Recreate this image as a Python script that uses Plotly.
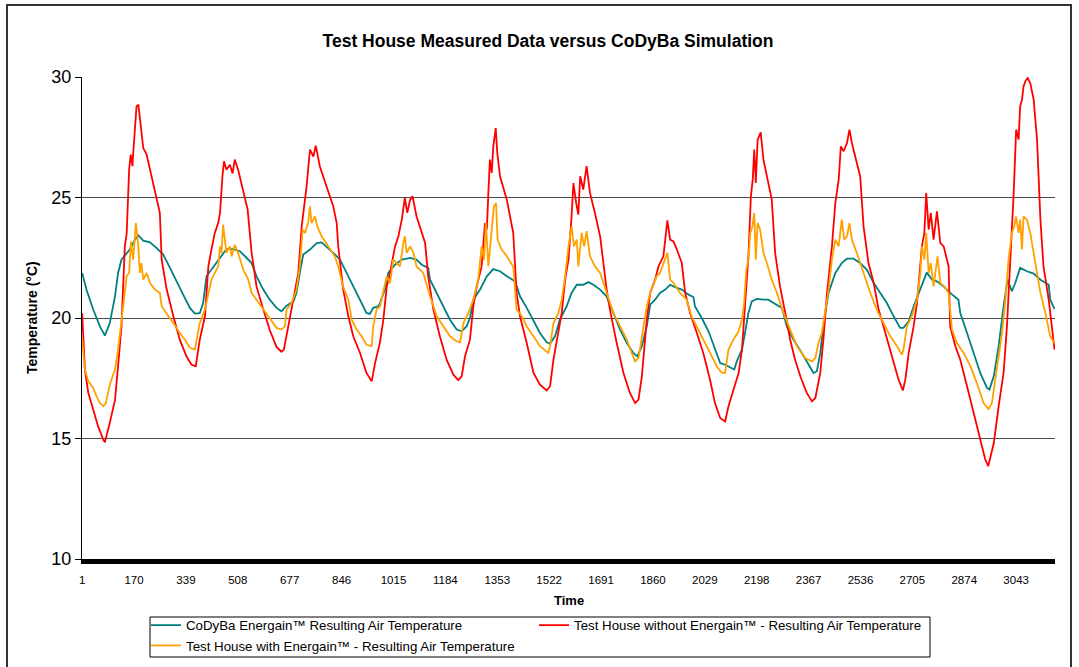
import plotly.graph_objects as go

# ---------------- data ----------------
tick_labels = [1, 170, 339, 508, 677, 846, 1015, 1184, 1353, 1522, 1691,
               1860, 2029, 2198, 2367, 2536, 2705, 2874, 3043]
y_ticks = [10, 15, 20, 25, 30]
n_points = 3168

# CoDyBa Energain(TM) Resulting Air Temperature (teal)
codyba_t = [1, 15, 37, 59, 75, 91, 108, 118, 129, 140, 156, 173, 184, 200, 222, 243, 265, 287, 308, 330,
            352, 368, 384, 395, 406, 422, 439, 455, 471, 493, 515, 537, 553, 569, 591, 612, 634, 650, 667, 689,
            699, 710, 721, 743, 765, 781, 797, 819, 841, 862, 884, 906, 927, 938, 949, 965,
            971, 987, 998, 1020, 1042, 1069, 1090, 1107, 1128, 1134, 1156, 1177, 1199, 1221, 1237, 1253, 1264,
            1275, 1297, 1319, 1340, 1362, 1384, 1411, 1427, 1449, 1471, 1492, 1514, 1525, 1541, 1557, 1579,
            1595, 1612, 1633, 1650, 1666, 1688, 1709, 1731, 1753, 1775, 1796, 1809, 1824, 1840, 1851, 1867,
            1883, 1900, 1916, 1932, 1954, 1976, 1992, 1997, 2019, 2041, 2062, 2079,
            2095, 2112, 2125, 2133, 2150, 2160, 2171, 2182, 2198, 2220, 2236, 2253, 2280, 2296, 2318, 2345,
            2367, 2383, 2394, 2405, 2416, 2432, 2454, 2475, 2492, 2513, 2535, 2557, 2579, 2600, 2622, 2644,
            2665, 2676, 2693, 2709, 2720, 2736, 2752, 2769, 2785, 2807, 2828, 2855, 2861, 2883, 2904, 2926,
            2948, 2956, 2970, 2986, 3002, 3015, 3029, 3040, 3056, 3078, 3100, 3122, 3149, 3154, 3168]
codyba_v = [21.87, 21.18, 20.35, 19.65, 19.27, 19.79, 20.90, 21.87, 22.42, 22.59, 22.84, 23.25, 23.43, 23.21,
            23.14, 22.91, 22.63, 22.08, 21.52, 20.97,
            20.42, 20.18, 20.20, 20.62, 21.73, 22.00, 22.28, 22.56, 22.86, 22.86, 22.77, 22.49, 22.28, 21.73,
            21.18, 20.76, 20.42, 20.28, 20.51, 20.69,
            21.04, 21.87, 22.63, 22.84, 23.11, 23.14, 22.97, 22.70, 22.42, 21.87, 21.31, 20.76, 20.21, 20.17,
            20.42, 20.48,
            20.62, 21.18, 21.87, 22.21, 22.42, 22.49, 22.42, 22.21, 22.08, 21.59, 21.04, 20.48, 19.93, 19.52,
            19.45, 19.65, 20.00,
            20.76, 21.18, 21.73, 22.03, 21.94, 21.73, 21.52, 20.90, 20.42, 19.86, 19.38, 18.99, 18.94, 19.24,
            19.93, 20.48,
            21.04, 21.38, 21.38, 21.49, 21.38, 21.18, 20.90, 20.21, 19.52, 18.96, 18.55, 18.41, 18.83, 19.65,
            20.55, 20.76,
            21.04, 21.18, 21.38, 21.28, 21.18, 20.97, 20.87, 20.48, 20.00, 19.45, 18.69, 18.13,
            18.06, 17.93, 17.86, 18.20, 18.69, 19.38, 20.21, 20.69, 20.79, 20.76, 20.76, 20.62, 20.42, 19.65,
            19.10, 18.55,
            18.06, 17.72, 17.79, 18.55, 19.79, 21.04, 21.87, 22.28, 22.46, 22.46, 22.28, 22.00, 21.45, 21.04,
            20.62, 20.07,
            19.59, 19.59, 19.86, 20.48, 20.83, 21.31, 21.89, 21.59, 21.52, 21.31, 21.04, 20.76, 20.21, 19.38,
            18.55, 17.72,
            17.10, 17.03, 17.58, 18.83, 20.48, 21.59, 21.11, 21.45, 22.08, 21.94, 21.84, 21.59, 21.38, 20.76,
            20.37]

# Test House without Energain(TM) - Resulting Air Temperature (red)
without_t = [1, 10, 21, 37, 53, 70, 75, 91, 108, 118, 129, 140, 146, 154, 159, 165, 167, 178, 184, 189,
             194, 200, 211, 232, 254, 260, 276, 298, 319, 341, 357, 371, 384, 401, 412, 422, 433, 444, 450,
             458, 463, 471, 482, 491, 498, 509, 526, 540, 553, 569, 591, 612, 634, 650, 658, 672, 689, 705,
             716, 732, 743, 754, 762, 775, 797, 819, 830, 835, 851, 868, 884, 906, 927, 944, 955, 971,
             982, 993, 1004, 1020, 1031, 1042, 1052, 1060, 1069, 1077, 1090, 1118, 1128, 1145, 1166, 1188,
             1210, 1226, 1237, 1248, 1264, 1275, 1286, 1302, 1313, 1319, 1324, 1329, 1335, 1340, 1348, 1353,
             1362, 1384, 1405, 1416, 1427, 1449, 1471, 1492, 1514, 1525, 1536, 1552, 1563, 1574, 1585, 1595,
             1601, 1610, 1617, 1623, 1633, 1644, 1655, 1671, 1688, 1709, 1720, 1742, 1764, 1785, 1802, 1813,
             1824, 1840, 1851, 1867, 1878, 1894, 1903, 1907, 1916, 1927, 1938, 1954, 1965, 1981, 2003, 2024,
             2046, 2062, 2079, 2095,
             2106, 2122, 2139, 2150, 2160, 2171, 2179, 2185, 2190, 2195, 2201, 2211, 2220, 2231, 2247, 2258,
             2274, 2291, 2307, 2323, 2340, 2361, 2378, 2389, 2405, 2416, 2427, 2443, 2454, 2465, 2472, 2481,
             2492, 2500, 2508, 2524, 2535, 2546, 2562, 2579, 2595, 2611, 2627, 2644, 2660, 2674, 2682, 2693,
             2709, 2720, 2736, 2744, 2750, 2758, 2765, 2774, 2785, 2796, 2807, 2823, 2828, 2845, 2861, 2883,
             2904, 2926, 2942, 2952, 2970, 2986, 3002, 3013, 3024, 3035, 3043, 3051, 3056, 3062, 3067, 3073,
             3080, 3089, 3100, 3111, 3122, 3132, 3149, 3160, 3168]
without_v = [20.20, 17.85, 16.90, 16.20, 15.50, 14.95, 14.84, 15.65, 16.60, 18.00, 19.65, 22.97, 23.50, 26.15,
             26.78, 26.30, 26.78, 28.78, 28.85, 28.30,
             27.68, 27.05, 26.78, 25.60, 24.36, 22.42, 21.20, 20.07, 19.10, 18.40, 18.06, 18.00, 19.10, 20.07,
             22.14, 22.84, 23.53, 23.94, 24.36,
             25.90, 26.50, 26.15, 26.36, 26.00, 26.57, 26.15, 25.20, 24.50, 22.70, 21.30, 20.35, 19.50, 18.80,
             18.60, 18.69, 19.65, 20.76, 21.87,
             23.80, 25.46, 26.99, 26.70, 27.15, 26.30, 25.46, 24.63, 23.94, 22.97, 21.20, 20.07, 19.24, 18.55,
             17.72, 17.37, 18.13, 19.00,
             19.93, 21.30, 21.87, 22.97, 23.39, 24.08, 24.98, 24.36, 24.90, 25.05, 24.22, 23.11, 21.73, 20.35,
             19.24, 18.27,
             17.65, 17.42, 17.58, 18.41, 19.10, 20.48, 21.30, 22.14, 23.94, 23.67, 25.19, 26.57, 26.02, 27.12,
             27.88, 26.85,
             25.88, 24.91, 23.53, 21.04, 20.07, 18.96, 17.72, 17.23, 16.99, 17.17, 18.27, 19.52, 20.21, 21.59,
             22.42, 24.22,
             25.60, 24.77, 24.29, 25.88, 25.33, 26.30, 25.19, 24.36, 23.39, 21.20, 20.35, 18.96, 17.72, 16.89,
             16.47, 16.61,
             17.58, 19.93, 21.04, 21.59, 22.14, 22.56, 23.67, 24.05, 23.25, 23.18, 22.84, 22.28, 21.04, 20.21,
             19.38, 18.55,
             17.44, 16.47, 15.85, 15.71,
             16.34, 17.03, 17.72, 18.69, 20.35, 22.56, 25.05, 25.74, 26.99, 25.60, 27.40, 27.70, 26.57, 25.88,
             24.91, 22.70,
             21.30, 20.21, 19.10, 18.27, 17.58, 16.89, 16.54, 16.68, 17.72, 19.24, 21.04, 22.97, 24.77, 25.74,
             27.12, 26.92,
             27.26, 27.82, 27.26, 26.43, 25.88, 23.80, 22.28, 21.45, 20.35, 19.65, 18.96, 18.13, 17.44, 16.99,
             17.44, 18.55,
             19.65, 20.62, 22.97, 23.53, 25.19, 23.67, 24.36, 23.25, 24.43, 23.11, 22.97, 22.14, 19.65, 18.83,
             18.27, 17.17,
             16.06, 14.95, 14.15, 13.85, 14.80, 16.34, 17.72, 19.65, 22.42, 25.19, 27.82, 27.40, 28.78, 29.06,
             29.61, 29.82,
             29.96, 29.75, 29.06, 27.40, 24.08, 22.14, 20.76, 19.65, 18.69]

# Test House with Energain(TM) - Resulting Air Temperature (orange)
with_t = [1, 10, 21, 37, 48, 59, 70, 78, 91, 108, 118, 129, 140, 146, 154, 160, 167, 176, 184, 189, 194,
          200, 211, 222, 238, 254, 260, 276, 298, 319, 336, 352, 368, 376, 384, 401, 412, 422, 433, 444, 450,
          455, 460, 466, 471, 482, 488, 498, 509, 526, 542, 553, 569, 591, 612, 634, 650, 661, 667, 683, 699,
          710, 719, 727, 737, 743, 748, 759, 767, 781, 803, 824, 835, 851, 868, 879, 895, 911, 927, 944, 949,
          960,
          971, 982, 993, 1004, 1014, 1025, 1036, 1047, 1052, 1058, 1069, 1080, 1090, 1112, 1134, 1156, 1177,
          1199, 1221, 1232, 1243, 1259, 1275, 1291, 1302, 1310, 1316, 1324, 1335, 1342, 1349, 1354, 1367,
          1384, 1405, 1416, 1433, 1449, 1471, 1492, 1519, 1525, 1536, 1552, 1563, 1574, 1585, 1595, 1603,
          1612, 1617, 1628, 1636, 1644, 1655, 1671, 1688, 1709, 1731, 1753, 1775, 1791, 1802, 1813, 1824,
          1840, 1851, 1862, 1872, 1883, 1894, 1903, 1907, 1916, 1927, 1948, 1970, 1986, 2003, 2024, 2046,
          2068, 2084,
          2095, 2106, 2122, 2139, 2150, 2157, 2164, 2171, 2177, 2184, 2190, 2195, 2201, 2209, 2220, 2231,
          2247, 2264, 2285, 2307, 2329, 2356, 2378, 2389, 2399, 2410, 2421, 2432, 2443, 2454, 2465, 2475,
          2483, 2492, 2500, 2508, 2524, 2546, 2568, 2589, 2611, 2633, 2655, 2671, 2676, 2687, 2703, 2720,
          2731, 2736, 2744, 2750, 2758, 2765, 2774, 2787, 2796, 2809, 2823, 2834, 2850, 2872, 2894, 2915,
          2937, 2953, 2964, 2975, 2986, 2997, 3008, 3018, 3029, 3037, 3043, 3051, 3056, 3062, 3067, 3078,
          3089, 3100, 3111, 3122, 3138, 3154, 3168]
with_v = [19.10, 17.86, 17.37, 17.10, 16.75, 16.47, 16.34, 16.47, 17.23, 17.86, 18.69, 19.93, 21.18, 21.73,
          21.87, 23.18, 22.42, 23.94, 22.97, 21.87, 22.28,
          21.59, 21.87, 21.45, 21.18, 21.04, 20.48, 20.21, 19.79, 19.38, 19.10, 18.76, 18.69, 19.24, 19.79,
          20.35, 21.04, 21.59, 21.87, 22.14, 22.97,
          22.70, 23.87, 23.11, 22.70, 22.97, 22.56, 23.04, 22.70, 22.00, 21.59, 21.04, 20.76, 20.35, 20.00,
          19.59, 19.52, 19.65, 20.35, 20.62, 21.18,
          22.14, 23.67, 23.53, 23.94, 24.63, 23.94, 24.22, 23.80, 23.39, 22.97, 22.56, 22.14, 21.30, 20.76,
          19.93, 19.52, 19.24, 18.89, 18.83, 19.65,
          20.35,
          20.48, 21.18, 21.73, 21.45, 22.42, 22.28, 22.14, 23.11, 23.39, 22.70, 22.97, 22.70, 22.14, 21.87,
          20.90, 20.07, 19.65,
          19.24, 19.03, 19.00, 19.79, 20.21, 20.76, 21.59, 22.97, 22.42, 23.94, 22.14, 23.67, 24.63, 24.77,
          23.25, 22.84,
          22.56, 22.14, 20.35, 20.07, 19.65, 19.24, 18.83, 18.55, 18.83, 19.79, 20.21, 20.76, 21.73, 22.97,
          23.80, 22.97,
          23.25, 22.14, 23.53, 22.97, 23.60, 22.56, 22.14, 21.87, 21.04, 20.21, 19.65, 19.10, 18.55, 18.20,
          18.34, 19.24,
          20.48, 21.04, 21.45, 21.73, 21.87, 22.28, 22.56, 22.70, 21.59, 21.45, 21.04, 20.76, 20.07, 19.65,
          19.10, 18.55,
          18.00, 17.72,
          17.72, 18.69, 19.10, 19.45, 19.93, 20.62, 22.00, 22.42, 23.53, 23.80, 24.36, 22.42, 23.94, 23.67,
          22.70, 22.28,
          21.59, 21.04, 20.21, 19.52, 18.83, 18.34, 18.20, 18.34, 18.96, 19.38, 20.21, 21.18, 22.42, 23.25,
          22.97, 24.08,
          23.25, 23.39, 23.94, 23.25, 22.70, 21.87, 21.04, 20.35, 19.79, 19.24, 18.83, 18.48, 18.69, 19.65,
          20.07, 20.76,
          21.87, 22.97, 22.42, 23.53, 21.87, 22.28, 21.31, 22.56, 21.45, 21.31, 21.04, 19.52, 18.96, 18.55,
          18.00, 17.30,
          16.47, 16.22, 16.47, 17.44, 18.27, 19.38, 20.76, 22.42, 23.53, 23.80, 24.22, 23.53, 24.08, 22.84,
          24.22, 24.08,
          23.53, 22.70, 21.73, 21.04, 20.21, 19.24, 18.96]

series_names = ["CoDyBa Energain™ Resulting Air Temperature",
                "Test House without Energain™ - Resulting Air Temperature",
                "Test House with Energain™ - Resulting Air Temperature"]
series_colors = ["#008080", "#FF0000", "#FFA200"]

# ---------------- figure ----------------
FONT = "Arial, 'Liberation Sans', Helvetica, sans-serif"
W, H = 1079, 667
L, R, T, B = 82, 24, 77, 108
pw, ph = W - L - R, H - T - B


def px_x(x):
    return (x - L) / pw


def px_y(y):
    return (H - B - y) / ph


fig = go.Figure()
for t, v, name, col in zip([codyba_t, without_t, with_t],
                           [codyba_v, without_v, with_v],
                           series_names, series_colors):
    fig.add_trace(go.Scatter(x=t, y=v, mode="lines", name=name,
                             line=dict(color=col, width=1.8)))

fig.update_layout(
    width=W, height=H,
    margin=dict(l=L, r=R, t=T, b=B, autoexpand=False),
    paper_bgcolor="white", plot_bgcolor="white",
    font=dict(family=FONT, color="black"),
    title=dict(text="<b>Test House Measured Data versus CoDyBa Simulation</b>",
               font=dict(size=17.5, family=FONT, color="black"),
               x=px_x(548), xref="paper", xanchor="center",
               y=1 - 41 / H, yanchor="middle"),
    showlegend=True,
    legend=dict(orientation="h", x=px_x(146), xanchor="left",
                y=px_y(610), yanchor="top", entrywidth=343, entrywidthmode="pixels",
                bgcolor="rgba(0,0,0,0)", borderwidth=0,
                font=dict(size=13.3, family=FONT, color="black"),
                tracegroupgap=0, itemwidth=30),
)

fig.update_xaxes(
    range=[0.5, n_points + 1.5],
    tickmode="array", tickvals=tick_labels, ticktext=[str(v) for v in tick_labels],
    tickfont=dict(size=11.5, family=FONT, color="black"),
    showgrid=False, zeroline=False,
    showline=True, linecolor="black", linewidth=5,
    ticks="", ticklabelstandoff=6,
)
fig.update_yaxes(
    range=[10, 30], tickmode="array", tickvals=y_ticks,
    tickfont=dict(size=18, family=FONT, color="black"),
    showgrid=True, gridcolor="#4a4a4a", gridwidth=1, zeroline=False,
    showline=True, linecolor="black", linewidth=1,
    ticks="outside", ticklen=6, tickcolor="black",
)

fig.add_annotation(text="<b>Temperature (°C)</b>", xref="paper", yref="paper",
                   x=px_x(32), y=px_y(318), textangle=-90, showarrow=False,
                   font=dict(size=14, family=FONT, color="black"),
                   xanchor="center", yanchor="middle")
fig.add_annotation(text="<b>Time</b>", xref="paper", yref="paper",
                   x=px_x(569), y=px_y(600), showarrow=False,
                   font=dict(size=13, family=FONT, color="black"),
                   xanchor="center", yanchor="middle")

# outer chart-area frame
fig.add_shape(type="rect", xref="paper", yref="paper",
              x0=px_x(7), x1=px_x(1071), y0=px_y(680), y1=px_y(5),
              line=dict(color="#333333", width=2), fillcolor="rgba(0,0,0,0)", layer="below")
# legend frame
fig.add_shape(type="rect", xref="paper", yref="paper",
              x0=px_x(150), x1=px_x(930), y0=px_y(657), y1=px_y(617),
              line=dict(color="black", width=1), fillcolor="rgba(0,0,0,0)", layer="below")

fig.write_html("out.html", config={"displayModeBar": False},
               post_script="document.body.style.margin='0px';")
